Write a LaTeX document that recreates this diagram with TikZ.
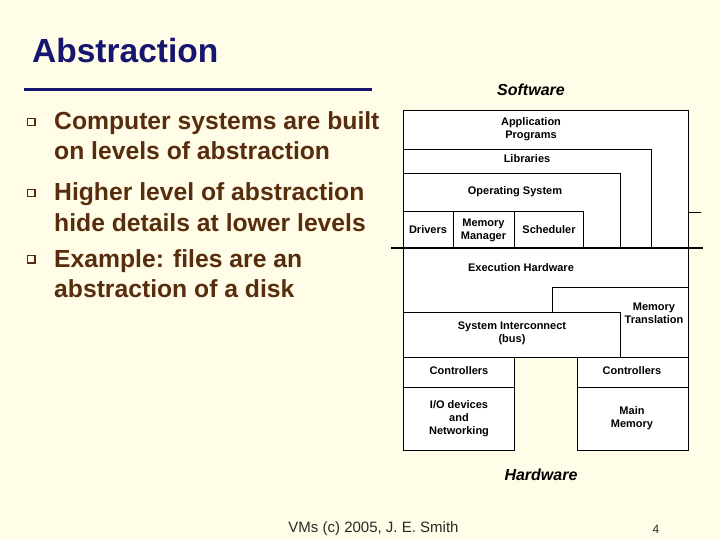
\documentclass[tikz,border=0pt]{standalone}
\usepackage{fontspec}
\setmainfont{Liberation Sans}
\definecolor{cream}{RGB}{255,253,231}
\definecolor{navy}{RGB}{22,22,112}
\definecolor{bodybrown}{RGB}{88,45,14}
\definecolor{footgray}{RGB}{40,40,40}
\begin{document}
\begin{tikzpicture}[x=1pt,y=-1pt,
  box/.style={draw=black,fill=white,line width=0.8pt,inner sep=0pt,anchor=north west},
  lbl/.style={font=\fontsize{11}{13}\selectfont\bfseries,align=center,inner sep=0pt},
  big/.style={font=\fontsize{16}{18}\selectfont\bfseries\itshape,inner sep=0pt},
  bul/.style={font=\fontsize{24.7}{30}\selectfont\bfseries,text=bodybrown,anchor=base west,inner sep=0pt},
  sq/.style={fill=bodybrown}]
\fill[cream] (0,0) rectangle (720,540);
\useasboundingbox (0,0) rectangle (720,540);
% title
\node[font=\fontsize{33.5}{36}\selectfont\bfseries,text=navy,anchor=base west,inner sep=0pt] (title) at (32,63) {Abstraction};
\draw[navy,line width=3pt] (24,90) -- (372,90);
% bullets
\foreach \yy in {130,201,267}{
  \fill[bodybrown] (27,\yy-12) rectangle (35.5,\yy-3.5);
  \fill[cream] (28.2,\yy-10.8) rectangle (33.8,\yy-5.2);
}
\node[bul] (b1a) at (54,130) {Computer systems are built};
\node[bul] (b1b) at (54,160) {on levels of abstraction};
\node[bul] (b2a) at (54,201) {Higher level of abstraction};
\node[bul] (b2b) at (54,231) {hide details at lower levels};
\node[bul] (b3a) at (54,267) {Example: files are an};
\node[bul] (b3b) at (54,297) {abstraction of a disk};
% software stack
\node[big] (sw) at (531,90) {Software};
\node[box,minimum width=285pt,minimum height=138pt] (app) at (403,110) {};
\node[box,minimum width=248pt,minimum height=99pt] (lib) at (403,149) {};
\node[box,minimum width=217pt,minimum height=75pt] (os) at (403,173) {};
\node[box,minimum width=50pt,minimum height=37pt] (drv) at (403,211) {};
\node[box,minimum width=61pt,minimum height=37pt] (mm) at (453,211) {};
\node[box,minimum width=69pt,minimum height=37pt] (sch) at (514,211) {};
\node[lbl] (tapp) at (531,129.5) {Application\\Programs};
\node[lbl] (tlib) at (527,159) {Libraries};
\node[lbl] (tos) at (515,192) {Operating System};
\node[lbl] (tdrv) at (428,230) {Drivers};
\node[lbl] (tmm) at (483.5,230.5) {Memory\\Manager};
\node[lbl] (tsch) at (549,230) {Scheduler};
% hardware
\node[box,minimum width=285pt,minimum height=109pt] (exe) at (403,248) {};
\node[box,minimum width=136pt,minimum height=70pt] (mt) at (552,287) {};
\node[box,minimum width=217pt,minimum height=45pt] (si) at (403,312) {};
\node[box,minimum width=111pt,minimum height=30pt] (c1) at (403,357) {};
\node[box,minimum width=111pt,minimum height=63pt] (io) at (403,387) {};
\node[box,minimum width=111pt,minimum height=30pt] (c2) at (577,357) {};
\node[box,minimum width=111pt,minimum height=63pt] (mem) at (577,387) {};
\node[lbl] (texe) at (521,268) {Execution Hardware};
\node[lbl] (tmt) at (654,313) {Memory\\Translation};
\node[lbl] (tsi) at (512,333.5) {System Interconnect\\(bus)};
\node[lbl] (tc1) at (459,371) {Controllers};
\node[lbl] (tc2) at (632,371) {Controllers};
\node[lbl] (tio) at (459,418.5) {I/O devices\\and\\Networking};
\node[lbl] (tmem) at (632,418.5) {Main\\Memory};
\node[big] (hw) at (541,475) {Hardware};
% separator lines
\coordinate (tl) at (391,248);
\coordinate (tr) at (703,248);
\draw[black,line width=2.4pt] (tl) -- (tr);
\coordinate (sl) at (701,212);
\draw[black,line width=0.8pt] (app.east |- sl) -- (sl);
% footer
\node[font=\fontsize{15}{17}\selectfont,text=footgray,anchor=base,inner sep=0pt] (foot) at (373.5,532) {VMs (c) 2005, J. E. Smith};
\node[font=\fontsize{12}{14}\selectfont,text=footgray,anchor=base,inner sep=0pt] (pg) at (656,533) {4};
\end{tikzpicture}
\end{document}
